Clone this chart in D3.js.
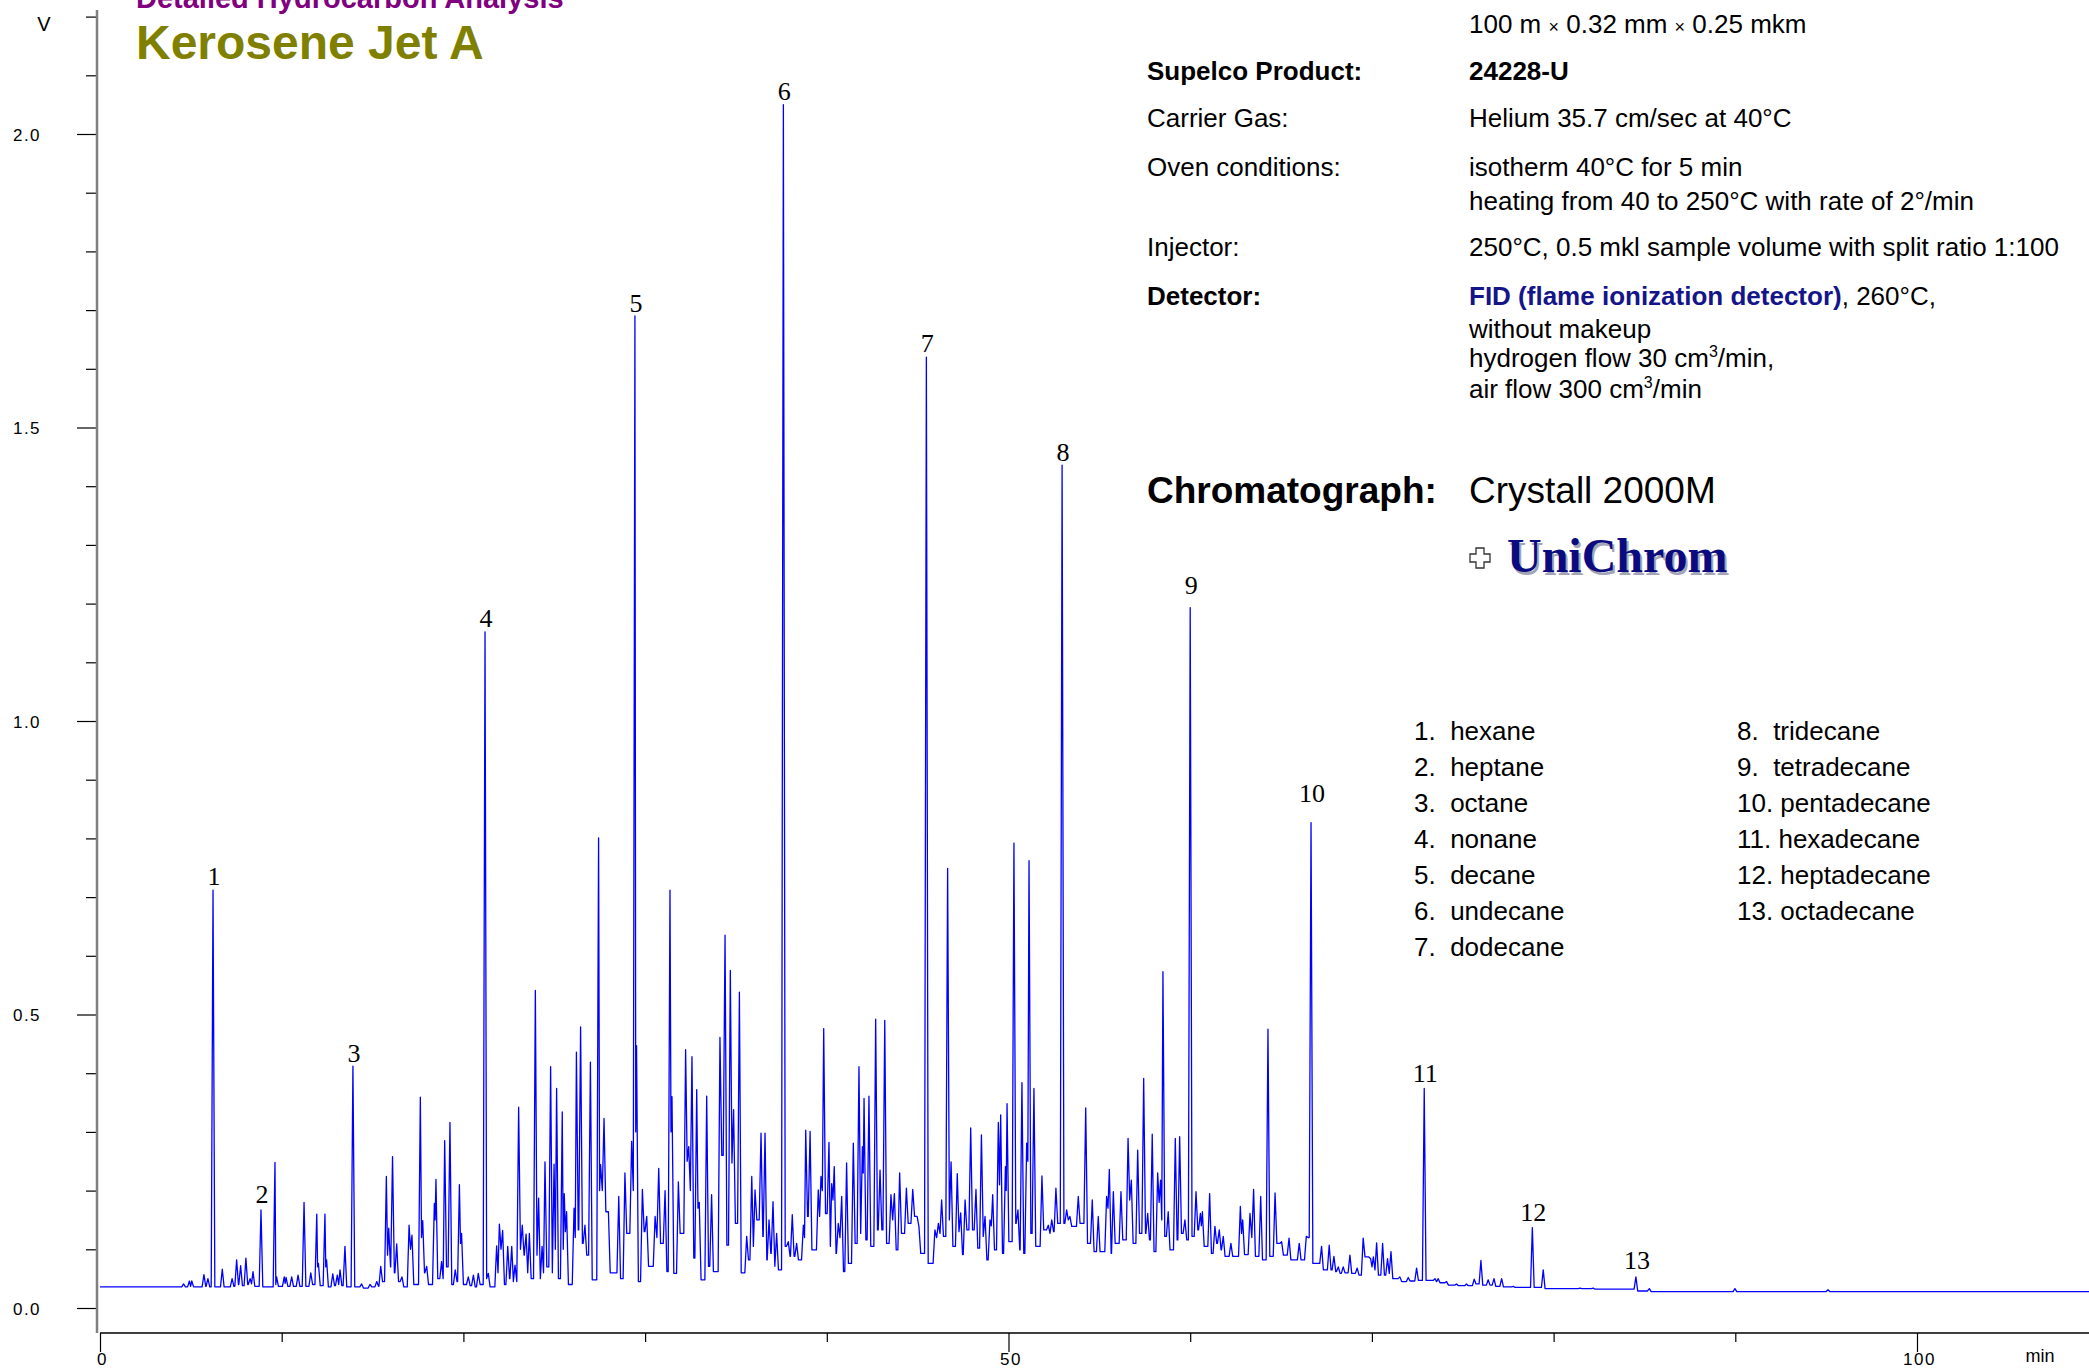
<!DOCTYPE html>
<html>
<head>
<meta charset="utf-8">
<script src="https://cdn.jsdelivr.net/npm/d3@7"></script>
<style>
  body { margin: 0; background: #fff; }
  svg { display: block; }
  text { font-family: "Liberation Sans", Arial, sans-serif; }
  .serif { font-family: "Liberation Serif", "Times New Roman", serif; }
  .pre { white-space: pre; }
</style>
</head>
<body>
<svg id="chart" width="2089" height="1371"></svg>
<script>
// ── Chromatogram trace ───────────────────────────────────────────────
// each entry: [retention time (min), apex (V), valley after it (V)]
const trace0to25 = [
  [0, 0.036, 0.036], [4.6, 0.041, 0.036], [4.92, 0.046, 0.037], [5.05, 0.046, 0.036],
  [5.72, 0.057, 0.037], [5.94, 0.05, 0.036], [6.22, 0.712, 0.036], [6.73, 0.066, 0.036],
  [7.27, 0.05, 0.037], [7.52, 0.082, 0.04], [7.74, 0.072, 0.038], [8.03, 0.085, 0.04],
  [8.26, 0.05, 0.041], [8.42, 0.062, 0.037], [8.86, 0.167, 0.036], [9.63, 0.248, 0.04],
  [9.72, 0.053, 0.037], [10.14, 0.053, 0.042], [10.24, 0.052, 0.037], [10.55, 0.053, 0.037],
  [10.9, 0.056, 0.037], [11.23, 0.18, 0.037], [11.6, 0.06, 0.04], [11.93, 0.16, 0.07],
  [12.02, 0.076, 0.038], [12.38, 0.16, 0.07], [12.47, 0.082, 0.036], [12.81, 0.058, 0.038],
  [13.06, 0.056, 0.04], [13.21, 0.065, 0.038], [13.48, 0.105, 0.036], [13.92, 0.412, 0.036],
  [14.4, 0.041, 0.034], [14.86, 0.04, 0.036], [15.23, 0.045, 0.037], [15.45, 0.071, 0.045],
  [15.76, 0.224, 0.09], [15.89, 0.136, 0.07], [16.1, 0.258, 0.06], [16.33, 0.109, 0.045],
  [16.62, 0.053, 0.036], [17.01, 0.141, 0.1], [17.17, 0.124, 0.04], [17.63, 0.359, 0.12],
  [17.76, 0.149, 0.06], [17.98, 0.071, 0.04], [18.4, 0.178, 0.15], [18.49, 0.219, 0.05],
  [18.8, 0.079, 0.05], [18.97, 0.285, 0.07], [19.26, 0.316, 0.04], [19.55, 0.065, 0.045],
  [19.78, 0.21, 0.11], [19.9, 0.127, 0.04], [20.27, 0.053, 0.038], [20.55, 0.056, 0.036],
  [20.82, 0.059, 0.04], [21.19, 1.152, 0.05], [21.37, 0.059, 0.036], [21.83, 0.106, 0.06],
  [21.98, 0.143, 0.1], [22.16, 0.132, 0.04], [22.44, 0.105, 0.05], [22.66, 0.105, 0.045],
  [22.84, 0.073, 0.045], [23.04, 0.342, 0.1], [23.24, 0.141, 0.09], [23.45, 0.126, 0.06],
  [23.63, 0.127, 0.05], [23.96, 0.541, 0.09], [24.14, 0.187, 0.05], [24.33, 0.105, 0.06],
  [24.49, 0.249, 0.07], [24.8, 0.411, 0.06], [24.99, 0.245, 0.1], [25.13, 0.374, 0.05]
];
const trace25to36 = [
  [25.44, 0.334, 0.1], [25.55, 0.195, 0.13], [25.68, 0.164, 0.04], [26.09, 0.17, 0.12],
  [26.22, 0.436, 0.133], [26.45, 0.479, 0.11], [26.69, 0.141, 0.09], [26.99, 0.419, 0.048],
  [27.44, 0.801, 0.2], [27.55, 0.244, 0.2], [27.74, 0.323, 0.164], [27.98, 0.164, 0.06],
  [28.55, 0.19, 0.05], [28.89, 0.23, 0.127], [29.26, 0.284, 0.2], [29.44, 1.69, 0.3],
  [29.53, 0.447, 0.045], [29.85, 0.202, 0.13], [30.09, 0.156, 0.071], [30.55, 0.156, 0.12],
  [30.75, 0.238, 0.11], [31.1, 0.2, 0.062], [31.37, 0.712, 0.3], [31.48, 0.36, 0.059],
  [31.83, 0.215, 0.127], [32.23, 0.44, 0.25], [32.4, 0.275, 0.2], [32.58, 0.428, 0.085],
  [32.84, 0.372, 0.17], [32.98, 0.18, 0.048], [33.39, 0.361, 0.071], [33.66, 0.193, 0.062],
  [34.12, 0.461, 0.26], [34.4, 0.635, 0.107], [34.69, 0.575, 0.247], [34.87, 0.338, 0.144],
  [35.19, 0.538, 0.06], [35.59, 0.122, 0.082], [35.87, 0.224, 0.105], [36.05, 0.201, 0.15],
  [36.38, 0.298, 0.122], [36.6, 0.298, 0.082]
];
const trace36to46 = [
  [36.82, 0.15, 0.093], [37.04, 0.181, 0.071], [37.24, 0.127, 0.065], [37.61, 2.05, 0.105],
  [37.88, 0.113, 0.088], [38.1, 0.159, 0.088], [38.34, 0.11, 0.082], [38.71, 0.141, 0.12],
  [38.84, 0.303, 0.156], [39.08, 0.301, 0.099], [39.53, 0.201, 0.156], [39.68, 0.224, 0.2],
  [39.83, 0.476, 0.161], [40.12, 0.282, 0.105], [40.27, 0.212, 0.184], [40.41, 0.241, 0.093],
  [40.63, 0.144, 0.12], [40.82, 0.19, 0.062], [41.09, 0.247, 0.076], [41.46, 0.281, 0.11],
  [41.77, 0.411, 0.127], [41.96, 0.275, 0.23], [42.05, 0.357, 0.116], [42.32, 0.361, 0.105],
  [42.69, 0.492, 0.133], [42.93, 0.235, 0.133], [43.19, 0.49, 0.11], [43.53, 0.193, 0.15],
  [43.72, 0.195, 0.099], [44.01, 0.23, 0.127], [44.38, 0.204, 0.144], [44.73, 0.202, 0.156],
  [45.07, 0.139, 0.093], [45.48, 1.62, 0.076], [45.95, 0.133, 0.12], [46.14, 0.144, 0.127],
  [46.32, 0.184, 0.122], [46.65, 0.749, 0.15]
];
const trace46to57 = [
  [46.84, 0.249, 0.105], [47.18, 0.229, 0.13], [47.37, 0.162, 0.091], [47.61, 0.184, 0.133],
  [47.92, 0.307, 0.133], [48.21, 0.202, 0.102], [48.51, 0.295, 0.122], [48.71, 0.156, 0.082],
  [48.98, 0.15, 0.14], [49.13, 0.193, 0.099], [49.44, 0.316, 0.21], [49.57, 0.329, 0.093],
  [49.83, 0.241, 0.2], [49.92, 0.348, 0.113], [50.3, 0.792, 0.144], [50.52, 0.167, 0.099],
  [50.74, 0.384, 0.093], [51.0, 0.281, 0.25], [51.13, 0.762, 0.127], [51.4, 0.374, 0.105],
  [51.84, 0.225, 0.133], [52.19, 0.141, 0.127], [52.38, 0.15, 0.13], [52.61, 0.204, 0.144],
  [52.95, 1.436, 0.144], [53.2, 0.167, 0.15], [53.38, 0.156, 0.139], [53.84, 0.19, 0.144],
  [54.25, 0.341, 0.11], [54.61, 0.184, 0.096], [54.94, 0.156, 0.096], [55.4, 0.19, 0.17],
  [55.55, 0.236, 0.093], [55.77, 0.198, 0.11], [56.19, 0.198, 0.116], [56.58, 0.289, 0.184],
  [56.76, 0.218, 0.11]
];
const trace57to68 = [
  [57.11, 0.269, 0.127], [57.44, 0.391, 0.127], [57.66, 0.161, 0.116], [57.91, 0.296, 0.096],
  [58.21, 0.23, 0.18], [58.37, 0.218, 0.15], [58.5, 0.573, 0.122], [58.79, 0.164, 0.099],
  [59.18, 0.289, 0.116], [59.42, 0.292, 0.127], [59.71, 0.15, 0.116], [60.0, 1.193, 0.122],
  [60.32, 0.198, 0.133], [60.56, 0.161, 0.14], [60.67, 0.164, 0.105], [61.07, 0.195, 0.093],
  [61.36, 0.139, 0.11], [61.6, 0.133, 0.099], [61.82, 0.122, 0.088], [62.24, 0.11, 0.088],
  [62.76, 0.173, 0.127], [62.89, 0.15, 0.091], [63.29, 0.161, 0.12], [63.49, 0.202, 0.088],
  [63.88, 0.19, 0.082], [64.28, 0.475, 0.088], [64.67, 0.196, 0.11], [65.03, 0.113, 0.09],
  [65.44, 0.119, 0.082], [66.0, 0.11, 0.082], [66.39, 0.122, 0.12], [66.65, 0.827, 0.076],
  [67.23, 0.105, 0.065], [67.65, 0.107, 0.065], [67.91, 0.088, 0.062]
];
const trace68to110 = [
  [68.15, 0.07, 0.059], [68.42, 0.07, 0.06], [68.79, 0.09, 0.059], [69.19, 0.068, 0.056],
  [69.52, 0.119, 0.087], [69.93, 0.084, 0.07], [70.08, 0.087, 0.065], [70.26, 0.111, 0.056],
  [70.59, 0.11, 0.056], [70.86, 0.084, 0.059], [71.05, 0.096, 0.05], [71.54, 0.053, 0.045],
  [72.0, 0.052, 0.046], [72.46, 0.068, 0.047], [72.88, 0.374, 0.047], [73.47, 0.05, 0.045],
  [73.65, 0.05, 0.043], [74.11, 0.045, 0.039], [74.66, 0.041, 0.038], [75.21, 0.041, 0.038],
  [75.63, 0.049, 0.041], [76.0, 0.081, 0.039], [76.4, 0.048, 0.039], [76.72, 0.05, 0.037],
  [77.14, 0.05, 0.036], [77.78, 0.037, 0.035], [78.83, 0.137, 0.035], [79.43, 0.065, 0.033],
  [81.45, 0.034, 0.033], [82.18, 0.034, 0.032], [84.53, 0.053, 0.029], [85.27, 0.033, 0.028],
  [89.98, 0.033, 0.028], [95.1, 0.031, 0.028], [110, 0.028, 0.028]
];

// labelled n-alkanes
const compoundNo   = [1, 2, 3, 4, 5, 6, 7, 8, 9, 10, 11, 12, 13];
const compoundRT   = [6.22, 8.86, 13.92, 21.19, 29.44, 37.61, 45.48, 52.95, 60.0, 66.65, 72.88, 78.83, 84.53];
const compoundName = ["hexane", "heptane", "octane", "nonane", "decane", "undecane", "dodecane",
                      "tridecane", "tetradecane", "pentadecane", "hexadecane", "heptadecane", "octadecane"];
const labelLift    = [5, 7, 4, 5, 4, 5, 5, 4, 14, 21, 6, 7, 8];

// axis ticks
const yMajor = [0, 0.5, 1.0, 1.5, 2.0];
const yMinor = [0.1, 0.2, 0.3, 0.4, 0.6, 0.7, 0.8, 0.9, 1.1, 1.2, 1.3, 1.4, 1.6, 1.7, 1.8, 1.9, 2.1, 2.2];
const xMajor = [0, 50, 100];
const xMinor = [10, 20, 30, 40, 60, 70, 80, 90, 110];

// method description
const specKeys = ["Supelco Product:", "Carrier Gas:", "Oven conditions:", "Injector:", "Detector:"];
const specVals = ["24228-U", "Helium 35.7 cm/sec at 40°C", "isotherm 40°C for 5 min",
                  "250°C, 0.5 mkl sample volume with split ratio 1:100"];

// ── Layout ───────────────────────────────────────────────────────────
const svg = d3.select("#chart");
const x = d3.scaleLinear().domain([0, 110]).range([100, 100 + 110 * 18.17]);
const y = d3.scaleLinear().domain([0, 2]).range([1308, 134]);
const AXIS_X = 97, AXIS_Y = 1333;

// ── Trace ────────────────────────────────────────────────────────────
const peaks = [].concat(trace0to25, trace25to36, trace36to46, trace46to57, trace57to68, trace68to110);
const halfW = 0.1;
const pts = [];
peaks.forEach((p, i) => {
  const prev = peaks[i - 1], next = peaks[i + 1];
  if (prev) pts.push([p[0] - Math.min(halfW, (p[0] - prev[0]) / 2), prev[2]]);
  pts.push([p[0], p[1]]);
  if (next) pts.push([p[0] + Math.min(halfW, (next[0] - p[0]) / 2), p[2]]);
});

svg.append("clipPath").attr("id", "plot-clip")
  .append("rect").attr("x", AXIS_X + 1).attr("y", 0).attr("width", 2089).attr("height", AXIS_Y);

svg.append("path")
  .datum(pts)
  .attr("clip-path", "url(#plot-clip)")
  .attr("fill", "none")
  .attr("stroke", "#0000ff")
  .attr("stroke-width", 1.3)
  .attr("stroke-linejoin", "round")
  .attr("d", d3.line().x(d => x(d[0])).y(d => y(d[1])));

// peak numbers
const apexOf = rt => peaks.find(p => p[0] === rt)[1];
svg.append("g").selectAll("text")
  .data(compoundNo)
  .join("text")
  .attr("class", "serif")
  .attr("x", (d, i) => x(compoundRT[i]) + 1)
  .attr("y", (d, i) => y(apexOf(compoundRT[i])) - labelLift[i])
  .attr("text-anchor", "middle")
  .attr("font-size", 26)
  .attr("fill", "#000")
  .text(d => d);

// ── Axes ─────────────────────────────────────────────────────────────
const yAxis = svg.append("g").attr("transform", `translate(${AXIS_X},0)`);
yAxis.append("g")
  .call(d3.axisLeft(y).tickValues(yMinor).tickSize(11).tickFormat("").tickSizeOuter(0));
yAxis.append("g")
  .call(d3.axisLeft(y).tickValues(yMajor).tickSize(20)
    .tickFormat(d3.format(".1f")).tickSizeOuter(0));
yAxis.selectAll(".domain").remove();
yAxis.selectAll("line").attr("stroke", "#000").attr("stroke-width", 1.2);
yAxis.selectAll("text")
  .attr("font-family", "'Liberation Sans', Arial, sans-serif")
  .attr("font-size", 17).attr("letter-spacing", 1.5).attr("fill", "#000")
  .attr("text-anchor", "middle").attr("x", -70).attr("dy", "0.36em");
yAxis.append("line").attr("x1", 0).attr("x2", 0).attr("y1", 10).attr("y2", AXIS_Y)
  .attr("stroke", "#808080").attr("stroke-width", 2.5);

const xAxis = svg.append("g").attr("transform", `translate(0,${AXIS_Y})`);
xAxis.append("g")
  .call(d3.axisBottom(x).tickValues(xMinor).tickSize(9).tickFormat("").tickSizeOuter(0));
xAxis.append("g")
  .call(d3.axisBottom(x).tickValues(xMajor).tickSize(19).tickPadding(1)
    .tickFormat(d3.format("d")).tickSizeOuter(0));
xAxis.selectAll(".domain").remove();
xAxis.selectAll("line").attr("stroke", "#000").attr("stroke-width", 1.2);
xAxis.selectAll("text")
  .attr("font-family", "'Liberation Sans', Arial, sans-serif")
  .attr("font-size", 17).attr("letter-spacing", 1.5).attr("fill", "#000").attr("dx", 2);
xAxis.append("line").attr("x1", x(0)).attr("x2", 2089).attr("y1", 0).attr("y2", 0)
  .attr("stroke", "#000").attr("stroke-width", 1.5);

svg.append("text").attr("x", 44).attr("y", 31).attr("text-anchor", "middle")
  .attr("font-size", 20).attr("fill", "#000").text("V");
svg.append("text").attr("x", 2040).attr("y", 1362).attr("text-anchor", "middle")
  .attr("font-size", 18).attr("fill", "#000").text("min");

// ── Titles ───────────────────────────────────────────────────────────
svg.append("text").attr("x", 136).attr("y", 8)
  .attr("font-size", 29).attr("font-weight", "bold").attr("fill", "#800080")
  .text("Detailed Hydrocarbon Analysis");
svg.append("text").attr("x", 136).attr("y", 59)
  .attr("font-size", 48).attr("font-weight", "bold").attr("fill", "#808000")
  .text("Kerosene Jet A");

// ── Method block ─────────────────────────────────────────────────────
const KX = 1147, VX = 1469, FS = 26;
const col = svg.append("g").attr("font-size", FS).attr("fill", "#000");

const head = col.append("text").attr("x", VX).attr("y", 33);
head.append("tspan").text("100 m ");
head.append("tspan").attr("font-size", 18).text("×");
head.append("tspan").text(" 0.32 mm ");
head.append("tspan").attr("font-size", 18).text("×");
head.append("tspan").text(" 0.25 mkm");

const keyY = [80, 127, 176, 256, 305];
specKeys.forEach((k, i) => {
  col.append("text").attr("x", KX).attr("y", keyY[i])
    .attr("font-weight", i === 0 || i === 4 ? "bold" : null).text(k);
});
col.append("text").attr("x", VX).attr("y", 80).attr("font-weight", "bold").text(specVals[0]);
col.append("text").attr("x", VX).attr("y", 127).text(specVals[1]);
col.append("text").attr("x", VX).attr("y", 176).text(specVals[2]);
col.append("text").attr("x", VX).attr("y", 210).text("heating from 40 to 250°C with rate of 2°/min");
col.append("text").attr("x", VX).attr("y", 256).text(specVals[3]);

const det = col.append("text").attr("x", VX).attr("y", 305);
det.append("tspan").attr("font-weight", "bold").attr("fill", "#15158a").text("FID (flame ionization detector)");
det.append("tspan").text(", 260°C,");
col.append("text").attr("x", VX).attr("y", 338).text("without makeup");
const h2 = col.append("text").attr("x", VX).attr("y", 367);
h2.append("tspan").text("hydrogen flow 30 cm");
h2.append("tspan").attr("font-size", 16).attr("dy", -10).text("3");
h2.append("tspan").attr("dy", 10).text("/min,");
const air = col.append("text").attr("x", VX).attr("y", 398);
air.append("tspan").text("air flow 300 cm");
air.append("tspan").attr("font-size", 16).attr("dy", -10).text("3");
air.append("tspan").attr("dy", 10).text("/min");

svg.append("text").attr("x", KX).attr("y", 503).attr("font-size", 37)
  .attr("font-weight", "bold").attr("fill", "#000").text("Chromatograph:");
svg.append("text").attr("x", VX).attr("y", 503).attr("font-size", 37)
  .attr("fill", "#000").text("Crystall 2000M");

// UniChrom logo
const cx = 1480, cy = 558, a = 4, b = 10;
svg.append("path")
  .attr("d", `M${cx - a},${cy - b}H${cx + a}V${cy - a}H${cx + b}V${cy + a}H${cx + a}V${cy + b}` +
             `H${cx - a}V${cy + a}H${cx - b}V${cy - a}H${cx - a}Z`)
  .attr("fill", "#fff").attr("stroke", "#333").attr("stroke-width", 1.3);
svg.append("text").attr("class", "serif").attr("x", 1509).attr("y", 575)
  .attr("font-size", 48).attr("font-weight", "bold").attr("fill", "#a4a4b8").text("UniChrom");
svg.append("text").attr("class", "serif").attr("x", 1507).attr("y", 572)
  .attr("font-size", 48).attr("font-weight", "bold").attr("fill", "#0b0b80").text("UniChrom");

// ── Compound legend ──────────────────────────────────────────────────
const leg = svg.append("g").attr("font-size", FS).attr("fill", "#000");
leg.selectAll("text")
  .data(compoundNo)
  .join("text")
  .attr("class", "pre")
  .attr("x", (d, i) => i < 7 ? 1414 : 1737)
  .attr("y", (d, i) => 740 + 36 * (i < 7 ? i : i - 7))
  .text((d, i) => (d < 10 ? d + ".  " : d + ". ") + compoundName[i]);
</script>
</body>
</html>
